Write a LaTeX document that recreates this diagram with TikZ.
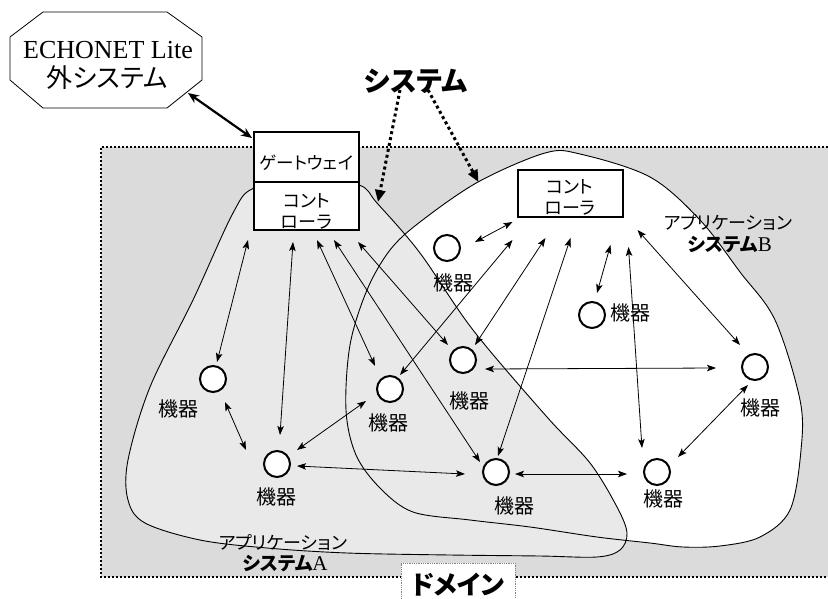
\documentclass[tikz,border=0pt]{standalone}
\usepackage{fontspec}
\setmainfont{Liberation Serif}
\newfontfamily\jp[RawFeature=+palt]{Noto Sans CJK JP}
\usetikzlibrary{arrows.meta}
\definecolor{domgray}{HTML}{DBDBDB}
\definecolor{agray}{HTML}{E9E9E9}
\begin{document}
\begin{tikzpicture}[x=1pt,y=-1pt,
  every node/.style={inner sep=0pt,outer sep=0pt},
  dev/.style={circle,draw,line width=2pt,fill=white,minimum size=26pt},
  lbl/.style={font=\jp\fontsize{20}{20}\selectfont},
  klbl/.style={font=\jp\fontsize{18}{18}\selectfont},
  boxst/.style={draw,line width=2pt,fill=white,minimum width=105pt},
  link/.style={line width=0.8pt,{Stealth[length=9pt,width=6.5pt,inset=2pt]}-{Stealth[length=9pt,width=6.5pt,inset=2pt]}},
  dotarrow/.style={line width=3pt,dash pattern=on 3pt off 3pt,-{Triangle[length=12pt,width=10pt]}},
  blob/.style={line width=0.9pt}]
\useasboundingbox (0,0) rectangle (828,598);

% domain
\fill[domgray] (101,147) rectangle (828,577);
\draw[line width=1.8pt,dash pattern=on 1.8pt off 2.2pt] (828,147) -- (101,147) -- (101,577) -- (828,577);

% application system B blob fill
\fill[white] plot[smooth cycle,tension=0.55] coordinates {
 (545,153) (580,154) (650,177) (700,220) (740,272) (775,320) (800,400) (801,450) (790,510) (760,537) (720,546) (683,547)
 (650,543) (597,537) (530,527) (470,520) (413,512) (380,488) (356,455) (346,410) (350,345) (367,290) (390,250) (420,222) (478,182)};
% application system A blob fill
\fill[agray] plot[smooth cycle,tension=0.55] coordinates {
 (306,178) (254,188) (233,213) (193,300) (150,387) (128,460) (128,500) (145,523) (200,540) (267,548) (347,553) (450,555)
 (540,556) (597,557) (620,550) (627,533) (617,507) (590,463) (547,417) (473,330) (420,253) (377,203) (359,185)};
\draw[blob] plot[smooth cycle,tension=0.55] coordinates {
 (545,153) (580,154) (650,177) (700,220) (740,272) (775,320) (800,400) (801,450) (790,510) (760,537) (720,546) (683,547)
 (650,543) (597,537) (530,527) (470,520) (413,512) (380,488) (356,455) (346,410) (350,345) (367,290) (390,250) (420,222) (478,182)};
\draw[blob] plot[smooth cycle,tension=0.55] coordinates {
 (306,178) (254,188) (233,213) (193,300) (150,387) (128,460) (128,500) (145,523) (200,540) (267,548) (347,553) (450,555)
 (540,556) (597,557) (620,550) (627,533) (617,507) (590,463) (547,417) (473,330) (420,253) (377,203) (359,185)};

% domain label box
\node[draw=gray,densely dotted,line width=0.8pt,fill=white,minimum width=114pt,minimum height=45pt,anchor=north west] (dombox) at (401,563) {};
\node[font=\jp\bfseries\fontsize{26}{26}\selectfont] (domtxt) at (458,585) {ドメイン};

% ECHONET Lite external system
\draw[line width=0.8pt,fill=white] (43,12) -- (167,12) -- (202,37) -- (202,80) -- (167,108) -- (43,108) -- (10,80) -- (10,37) -- cycle;
\node[font=\fontsize{26}{26}\selectfont] (echo) at (108,50) {ECHONET Lite};
\node[font=\jp\fontsize{26}{26}\selectfont] (echo2) at (107,78) {外システム};

% gateway / controller A
\node[boxst,minimum height=50pt] (gw) at (306.5,157) {};
\node[font=\jp\fontsize{17.5}{17.5}\selectfont] (gwt) at (306.5,163) {ゲートウェイ};
\node[boxst,minimum height=48pt] (ctrlA) at (306.5,206) {};
\node[klbl] (ctrlAt1) at (306.5,201) {コント};
\node[klbl] (ctrlAt2) at (306.5,222) {ローラ};

% controller B
\node[boxst,minimum height=47pt] (ctrlB) at (570,193.5) {};
\node[klbl] (ctrlBt1) at (570,187) {コント};
\node[klbl] (ctrlBt2) at (570,208) {ローラ};

% devices
\node[dev] (d1) at (213,379) {};
\node[dev] (d2) at (277,464) {};
\node[dev] (d3) at (390,389) {};
\node[dev] (d4) at (463,360) {};
\node[dev] (d5) at (496,472) {};
\node[dev] (d6) at (447,248) {};
\node[dev] (d7) at (592,315) {};
\node[dev] (d8) at (755,367) {};
\node[dev] (d9) at (657,472) {};
\node[lbl] (l1) at (178,409) {機器};
\node[lbl] (l2) at (276,497) {機器};
\node[lbl] (l3) at (388,423) {機器};
\node[lbl] (l4) at (469,401) {機器};
\node[lbl] (l5) at (514,506) {機器};
\node[lbl] (l6) at (453,283) {機器};
\node[lbl] (l7) at (630,313) {機器};
\node[lbl] (l8) at (760,408) {機器};
\node[lbl] (l9) at (663,499) {機器};

% system labels
\node[klbl] (appA1) at (283,543) {アプリケーション};
\node (appA2) at (285,564) {{\jp\bfseries\fontsize{19}{19}\selectfont システム}{\fontsize{21}{21}\selectfont A}};
\node[klbl] (appB1) at (728,223) {アプリケーション};
\node (appB2) at (730,245) {{\jp\bfseries\fontsize{19}{19}\selectfont システム}{\fontsize{21}{21}\selectfont B}};

% system title
\node[font=\jp\bfseries\fontsize{28}{28}\selectfont] (sys) at (416,81) {システム};

% thick arrow ECHONET <-> gateway
\draw[line width=2.2pt,{Stealth[length=11pt,width=9pt]}-{Stealth[length=11pt,width=9pt]}] ([shift={(80,43)}]echo.center) -- ([shift={(-2,6)}]gw.north west);
% dotted arrows
\draw[dotarrow] ([shift={(-16,9)}]sys.center) -- ([shift={(124,20)}]ctrlA.north west);
\draw[dotarrow] ([shift={(12,9)}]sys.center) -- ([shift={(-39,12)}]ctrlB.north west);

% controller A links
\draw[link] ([shift={(-6,10)}]ctrlA.south west) -- ([shift={(4,-17)}]d1.center);
\draw[link] ([shift={(39,12)}]ctrlA.south west) -- ([shift={(3,-29)}]d2.center);
\draw[link] ([shift={(63,10)}]ctrlA.south west) -- ([shift={(-15,-23)}]d3.center);
\draw[link] ([shift={(80,10)}]ctrlA.south west) -- ([shift={(-16,-10)}]d5.center);
\draw[link] ([shift={(104,12)}]ctrlA.south west) -- ([shift={(-15,-15)}]d4.center);
% controller B links
\draw[link] ([shift={(-5,5)}]ctrlB.south west) -- ([shift={(28,-6)}]d6.center);
\draw[link] ([shift={(-5,23)}]ctrlB.south west) -- ([shift={(10,-14)}]d3.center);
\draw[link] ([shift={(28,21)}]ctrlB.south west) -- ([shift={(12,-15)}]d4.center);
\draw[link] ([shift={(53,21)}]ctrlB.south west) -- ([shift={(2,-16)}]d5.center);
\draw[link] ([shift={(93,28)}]ctrlB.south west) -- ([shift={(5,-22)}]d7.center);
\draw[link] ([shift={(111,30)}]ctrlB.south west) -- ([shift={(-15,-24)}]d9.center);
\draw[link] ([shift={(120,13)}]ctrlB.south west) -- ([shift={(-15,-22)}]d8.center);
% device links
\draw[link] ([shift={(22,9)}]d4.center) -- ([shift={(-39,1)}]d8.center);
\draw[link] ([shift={(12,23)}]d1.center) -- ([shift={(-31,-14)}]d2.center);
\draw[link] ([shift={(20,-14)}]d2.center) -- ([shift={(-24,12)}]d3.center);
\draw[link] ([shift={(20,2)}]d2.center) -- ([shift={(-31,2)}]d5.center);
\draw[link] ([shift={(19,2)}]d5.center) -- ([shift={(-30,2)}]d9.center);
\draw[link] ([shift={(21,-15)}]d9.center) -- ([shift={(-7,18)}]d8.center);
\end{tikzpicture}
\end{document}
